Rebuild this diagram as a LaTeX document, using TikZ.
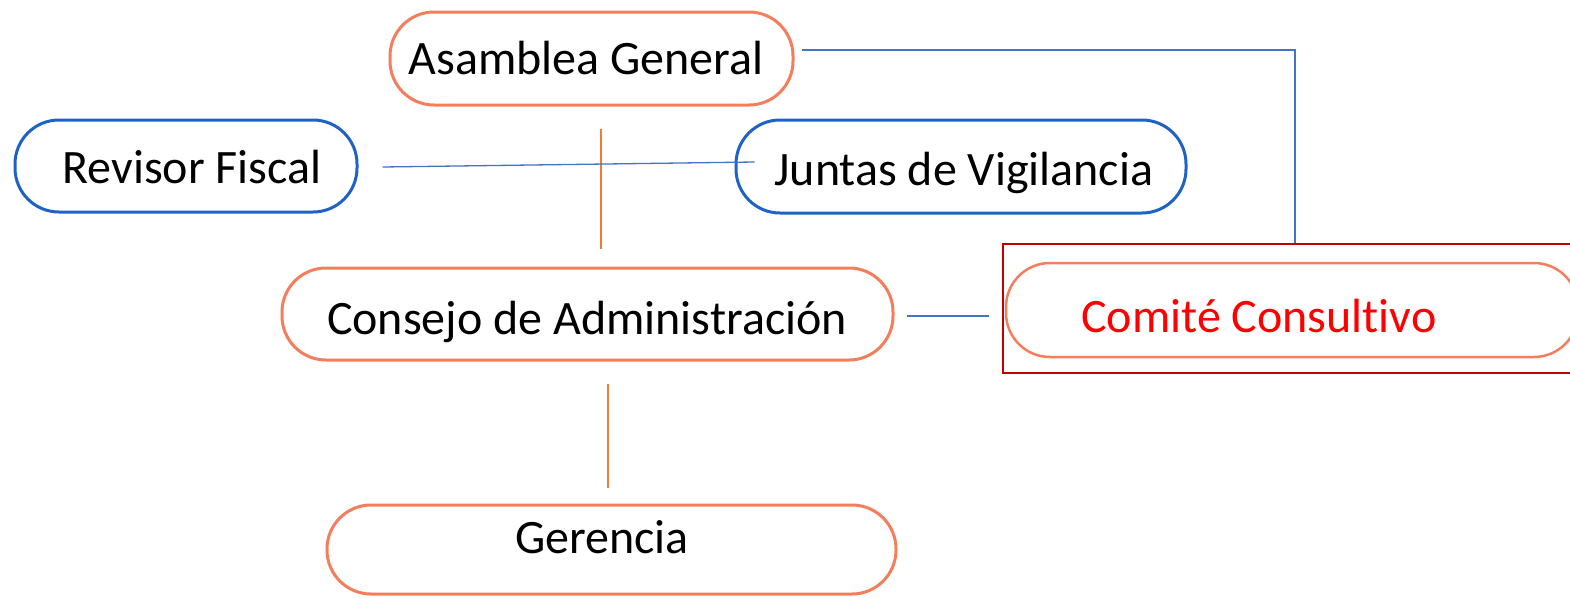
\documentclass[tikz,border=0pt]{standalone}
\usepackage{fontspec}
\setmainfont{Carlito}[Ligatures=NoCommon]
\usetikzlibrary{calc}
\definecolor{boxorange}{HTML}{F47E5C}
\definecolor{boxblue}{HTML}{1E62C8}
\definecolor{lineblue}{HTML}{4472C4}
\definecolor{lineorange}{HTML}{ED7D31}
\definecolor{framered}{HTML}{C00000}
\tikzset{
  box/.style={draw, line width=3pt, rounded corners=44pt, inner sep=0pt},
  obox/.style={box, draw=boxorange},
  bbox/.style={box, draw=boxblue},
  txt/.style={font=\fontsize{48}{57}\selectfont},
  bline/.style={draw=lineblue, line width=1.3pt},
  oline/.style={draw=lineorange, line width=1.3pt},
}
\begin{document}
\begin{tikzpicture}[x=1pt,y=-1pt]
\useasboundingbox (0,0) rectangle (1570,597);
\clip (0,0) rectangle (1570,597);
\node[obox, minimum width=403pt, minimum height=93pt,
      label={[txt, xshift=-5.5pt, yshift=0pt]center:Asamblea General}] (asam) at (591.5,58.5) {};
\node[bbox, minimum width=342pt, minimum height=92pt,
      label={[txt, xshift=6pt, yshift=-1pt]center:Revisor Fiscal}] (rev) at (186,166) {};
\node[bbox, minimum width=450pt, minimum height=93pt,
      label={[txt, xshift=3pt, yshift=-6.5pt]center:Juntas de Vigilancia}] (jun) at (961,166.5) {};
\node[obox, minimum width=611pt, minimum height=92pt,
      label={[txt, xshift=-0.5pt, yshift=-7.5pt]center:Consejo de Administración}] (con) at (587.5,314) {};
\node[draw=framered, line width=2pt, minimum width=580pt, minimum height=129pt, inner sep=0pt] (frame) at (1293,308.5) {};
\node[obox, line width=2.5pt, minimum width=572pt, minimum height=94pt,
      label={[txt, text=red, xshift=-33pt, yshift=-6pt]center:Comité Consultivo}] (com) at (1292,310) {};
\node[obox, minimum width=569pt, minimum height=89pt,
      label={[txt, xshift=-9.5pt, yshift=12pt]center:Gerencia}] (ger) at (611.5,549.5) {};
% connectors
\coordinate (a1) at ($(asam.south)+(9.5,22)$);
\coordinate (a2) at ($(con.north)+(13.5,-18)$);
\draw[oline] (a1) -- (a2);
\coordinate (c1) at ($(con.south)+(20.5,22)$);
\coordinate (c2) at ($(ger.north)+(-3.5,-16)$);
\draw[oline] (c1) -- (c2);
\coordinate (r1) at ($(rev.east)+(24,1)$);
\coordinate (j1) at ($(jun.west)+(20,-4.5)$);
\draw[bline] (r1) -- (j1);
\coordinate (s1) at ($(asam.east)+(7,-8.5)$);
\coordinate (t1) at ($(frame.north)+(2,0)$);
\draw[bline] (s1) -| (t1);
\coordinate (k1) at ($(con.east)+(12,2)$);
\coordinate (k2) at ($(frame.west)+(-13,7.5)$);
\draw[bline] (k1) -- (k2);
\end{tikzpicture}
\end{document}
